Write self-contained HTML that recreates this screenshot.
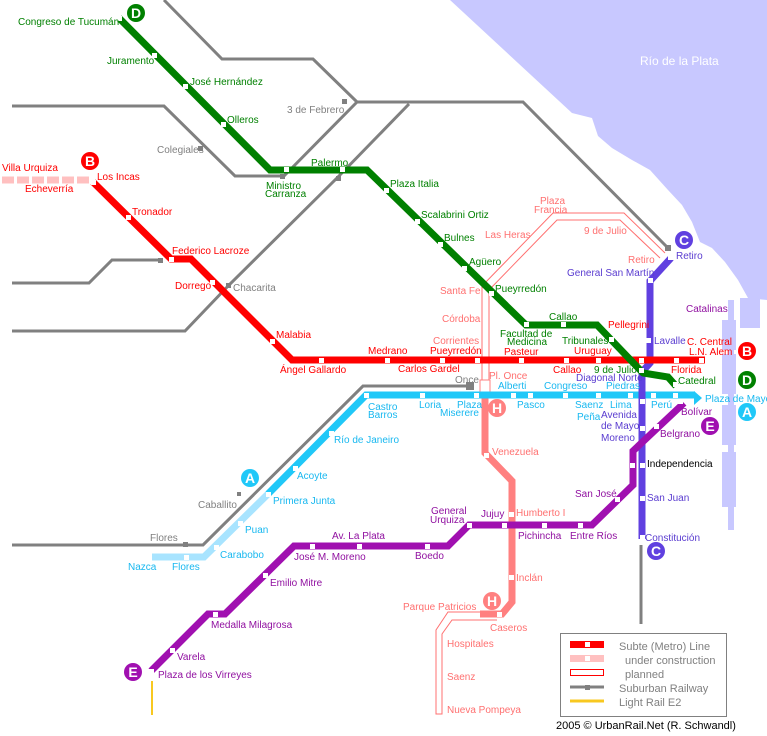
<!DOCTYPE html>
<html><head><meta charset="utf-8"><style>
html,body{margin:0;padding:0;background:#fff}
svg{display:block}
text{font-family:"Liberation Sans",sans-serif;font-size:10px}
.g{fill:#008000}.r{fill:#ff0000}.a{fill:#18b8f0}.c{fill:#5a3cd0}.e{fill:#9010a0}.h{fill:#ff7070}.s{fill:#808080}
.st{fill:#fff}
.ct{font-size:14px;font-weight:bold;fill:#fff;text-anchor:middle}
</style></head><body>
<svg width="767" height="736" viewBox="0 0 767 736" xmlns="http://www.w3.org/2000/svg">
<!-- river -->
<polygon fill="#c8c8ff" points="450,0 767,0 767,300 748,298 738,280 725,262 712,248 700,242 692,222 682,205 668,190 650,170 632,160 612,148 598,136 592,118 572,113"/>
<g fill="#c8c8ff">
<rect x="722" y="320" width="14" height="30"/><rect x="722" y="354" width="14" height="40"/><rect x="722" y="405" width="14" height="40"/><rect x="722" y="452" width="14" height="55"/><rect x="722" y="472" width="14" height="35"/>
<rect x="728" y="300" width="6" height="230"/>
<rect x="740" y="298" width="20" height="30"/>
</g>
<text x="640" y="65" style="font-size:12px;fill:#fff">Río de la Plata</text>

<!-- suburban -->
<g fill="none" stroke="#808080" stroke-width="3">
<polyline points="164,0 222,59 313,59 357,102 523,102 668,248"/>
<polyline points="357,102 284,176"/>
<polyline points="12,106 164,106 235,176 284,176"/>
<polyline points="409,104 338,177 229,285 185,331 12,331"/>
<polyline points="12,283 89,283 112,260 162,260"/>
<polyline points="12,545 203,545 363,386 470,386"/>
<line x1="641" y1="545" x2="641" y2="624"/>
</g>
<g fill="#808080"><rect x="466" y="382" width="8" height="8"/><rect x="342" y="99" width="5" height="5"/><rect x="198" y="146" width="5" height="5"/><rect x="226" y="283" width="5" height="5"/><rect x="665" y="245" width="6" height="6"/><rect x="183" y="542" width="5" height="5"/><rect x="236" y="380" width="0" height="0"/><rect x="237" y="380" width="0" height="0"/><rect x="158" y="258" width="5" height="5"/><rect x="236" y="493" width="0" height="0"/><rect x="237" y="492" width="0" height="0"/><rect x="237" y="493" width="0" height="0"/><rect x="238" y="492" width="0" height="0"/><rect x="237" y="492" width="4" height="4"/><rect x="336" y="176" width="5" height="5"/><rect x="280" y="174" width="5" height="5"/></g>

<!-- planned H outline -->
<g fill="none" stroke="#ff7070" stroke-width="1">
<polyline points="482,384 482,286 553,213 624,213 665,253"/>
<polyline points="489,384 489,290 557,220 620,220 660,258"/>
<polyline points="497,612 448,612 436,630 436,714 442,714 442,634 452,620 497,620"/>
</g>

<!-- H -->
<g fill="none" stroke="#ff8080" stroke-width="7">
<polyline points="485,392 485,453 512,481 512,602 502,614 480,614"/>
</g>
<rect x="480" y="380" width="10" height="12" fill="#fff" stroke="#ff8080"/>

<!-- A -->
<polyline points="152,557 204,557 268,494" fill="none" stroke="#a8e4ff" stroke-width="7"/>
<polyline points="268,494 366,395 695,395" fill="none" stroke="#20c8f8" stroke-width="7"/>
<polygon points="694,391 702,398 694,405" fill="#20c8f8"/>

<!-- C -->
<polyline points="671,258 650,281 650,363 642,372 642,539" fill="none" stroke="#6040e0" stroke-width="7"/>

<!-- E -->
<polyline points="684,403 633,451 633,485 592,525 469,525 448,546 294,546 225,614 208,614 151,671" fill="none" stroke="#a010b0" stroke-width="7"/>
<line x1="152" y1="681" x2="152" y2="715" stroke="#f8c820" stroke-width="2"/>

<!-- B -->
<line x1="2" y1="180" x2="92" y2="180" stroke="#ffc0c0" stroke-width="7" stroke-dasharray="12,3"/>
<polyline points="93,182 171,259 191,259 292,360 705,360" fill="none" stroke="#ff0000" stroke-width="7"/>

<!-- D -->
<polyline points="119,18 270,170 367,170 526,325 597,325 643,373 668,377 676,386" fill="none" stroke="#008000" stroke-width="7"/>

<!-- stations -->
<g class="st">
<rect x="152" y="53" width="5" height="5"/><rect x="183" y="84" width="5" height="5"/><rect x="221" y="122" width="5" height="5"/><rect x="284" y="167" width="5" height="5"/><rect x="340" y="167" width="5" height="5"/><rect x="384" y="188" width="5" height="5"/><rect x="415" y="219" width="5" height="5"/><rect x="438" y="242" width="5" height="5"/><rect x="462" y="266" width="5" height="5"/><rect x="489" y="291" width="5" height="5"/><rect x="524" y="322" width="5" height="5"/><rect x="561" y="322" width="5" height="5"/><rect x="609" y="337" width="5" height="5"/><rect x="639" y="368" width="5" height="5"/><rect x="673" y="382" width="5" height="5"/><rect x="117" y="16" width="5" height="5"/>
<rect x="91" y="180" width="5" height="5"/><rect x="126" y="215" width="5" height="5"/><rect x="169" y="257" width="5" height="5"/><rect x="210" y="280" width="5" height="5"/><rect x="270" y="339" width="5" height="5"/><rect x="319" y="358" width="5" height="5"/><rect x="385" y="358" width="5" height="5"/><rect x="440" y="358" width="5" height="5"/><rect x="475" y="358" width="5" height="5"/><rect x="519" y="358" width="5" height="5"/><rect x="564" y="358" width="5" height="5"/><rect x="596" y="358" width="5" height="5"/><rect x="639" y="358" width="5" height="5"/><rect x="674" y="358" width="5" height="5"/><rect x="699" y="358" width="5" height="5"/>
<rect x="364" y="393" width="5" height="5"/><rect x="420" y="393" width="5" height="5"/><rect x="474" y="393" width="5" height="5"/><rect x="511" y="393" width="5" height="5"/><rect x="528" y="393" width="5" height="5"/><rect x="563" y="393" width="5" height="5"/><rect x="596" y="393" width="5" height="5"/><rect x="628" y="393" width="5" height="5"/><rect x="651" y="393" width="5" height="5"/><rect x="673" y="393" width="5" height="5"/><rect x="329" y="431" width="5" height="5"/><rect x="293" y="466" width="5" height="5"/><rect x="266" y="492" width="5" height="5"/><rect x="238" y="521" width="5" height="5"/><rect x="214" y="545" width="5" height="5"/><rect x="184" y="555" width="5" height="5"/><rect x="147" y="555" width="5" height="5"/>
<rect x="648" y="278" width="5" height="5"/><rect x="646" y="338" width="5" height="5"/><rect x="640" y="399" width="5" height="5"/><rect x="640" y="426" width="5" height="5"/><rect x="640" y="463" width="5" height="5"/><rect x="640" y="496" width="5" height="5"/><rect x="640" y="535" width="5" height="5"/><rect x="668" y="255" width="5" height="5"/>
<rect x="678" y="399" width="5" height="5"/><rect x="654" y="424" width="5" height="5"/><rect x="630" y="463" width="5" height="5"/><rect x="615" y="497" width="5" height="5"/><rect x="578" y="523" width="5" height="5"/><rect x="542" y="523" width="5" height="5"/><rect x="502" y="523" width="5" height="5"/><rect x="467" y="523" width="5" height="5"/><rect x="425" y="544" width="5" height="5"/><rect x="357" y="544" width="5" height="5"/><rect x="310" y="544" width="5" height="5"/><rect x="263" y="573" width="5" height="5"/><rect x="213" y="612" width="5" height="5"/><rect x="170" y="648" width="5" height="5"/><rect x="149" y="669" width="5" height="5"/>
<rect x="484" y="453" width="5" height="5"/><rect x="509" y="512" width="5" height="5"/><rect x="509" y="575" width="5" height="5"/><rect x="497" y="612" width="5" height="5"/>
</g>

<!-- circles -->
<g>
<circle cx="136" cy="13" r="9" fill="#008000"/><text x="136" y="18" class="ct">D</text>
<circle cx="90" cy="161" r="9" fill="#ff0000"/><text x="90" y="166" class="ct">B</text>
<circle cx="684" cy="240" r="9" fill="#6040e0"/><text x="684" y="245" class="ct">C</text>
<circle cx="747" cy="351" r="9" fill="#ff0000"/><text x="747" y="356" class="ct">B</text>
<circle cx="747" cy="380" r="9" fill="#008000"/><text x="747" y="385" class="ct">D</text>
<circle cx="747" cy="412" r="9" fill="#20c8f8"/><text x="747" y="417" class="ct">A</text>
<circle cx="710" cy="426" r="9" fill="#a010b0"/><text x="710" y="431" class="ct">E</text>
<circle cx="250" cy="478" r="9" fill="#20c8f8"/><text x="250" y="483" class="ct">A</text>
<circle cx="656" cy="551" r="9" fill="#6040e0"/><text x="656" y="556" class="ct">C</text>
<circle cx="497" cy="408" r="9" fill="#ff8080"/><text x="497" y="413" class="ct">H</text>
<circle cx="492" cy="601" r="9" fill="#ff8080"/><text x="492" y="606" class="ct">H</text>
<circle cx="133" cy="672" r="9" fill="#a010b0"/><text x="133" y="677" class="ct">E</text>
</g>

<!-- labels -->
<g class="g">
<text x="18" y="25">Congreso de Tucumán</text><text x="107" y="64">Juramento</text><text x="190" y="85">José Hernández</text><text x="227" y="123">Olleros</text><text x="311" y="166">Palermo</text><text x="266" y="189">Ministro</text><text x="265" y="197">Carranza</text><text x="390" y="187">Plaza Italia</text><text x="421" y="218">Scalabrini Ortiz</text><text x="444" y="241">Bulnes</text><text x="469" y="265">Agüero</text><text x="495" y="292">Pueyrredón</text><text x="549" y="320">Callao</text><text x="500" y="337">Facultad de</text><text x="507" y="345">Medicina</text><text x="562" y="344">Tribunales</text><text x="594" y="373">9 de Julio</text><text x="678" y="384">Catedral</text>
</g>
<g class="r">
<text x="2" y="171">Villa Urquiza</text><text x="25" y="192">Echeverría</text><text x="97" y="180">Los Incas</text><text x="132" y="215">Tronador</text><text x="172" y="254">Federico Lacroze</text><text x="175" y="289">Dorrego</text><text x="276" y="338">Malabia</text><text x="280" y="373">Ángel Gallardo</text><text x="368" y="354">Medrano</text><text x="398" y="372">Carlos Gardel</text><text x="430" y="354">Pueyrredón</text><text x="504" y="355">Pasteur</text><text x="553" y="373">Callao</text><text x="574" y="354">Uruguay</text><text x="608" y="328">Pellegrini</text><text x="687" y="345">C. Central</text><text x="689" y="355">L.N. Alem</text><text x="671" y="373">Florida</text>
</g>
<g class="a">
<text x="368" y="410">Castro</text><text x="368" y="418">Barros</text><text x="419" y="408">Loria</text><text x="457" y="408">Plaza</text><text x="440" y="416">Miserere</text><text x="498" y="389">Alberti</text><text x="517" y="408">Pasco</text><text x="544" y="389">Congreso</text><text x="575" y="408">Saenz</text><text x="577" y="420">Peña</text><text x="610" y="408">Lima</text><text x="606" y="389">Piedras</text><text x="651" y="408">Perú</text><text x="705" y="402">Plaza de Mayo</text><text x="334" y="443">Río de Janeiro</text><text x="297" y="479">Acoyte</text><text x="273" y="504">Primera Junta</text><text x="245" y="533">Puan</text><text x="220" y="558">Carabobo</text><text x="128" y="570">Nazca</text><text x="172" y="570">Flores</text>
</g>
<g class="c">
<text x="676" y="259">Retiro</text><text x="567" y="276">General San Martín</text><text x="654" y="344">Lavalle</text><text x="576" y="381">Diagonal Norte</text><text x="601" y="418">Avenida</text><text x="601" y="429">de Mayo</text><text x="601" y="441">Moreno</text><text x="647" y="467" style="fill:#000">Independencia</text><text x="647" y="501">San Juan</text><text x="645" y="541">Constitución</text>
</g>
<g class="e">
<text x="686" y="312">Catalinas</text><text x="681" y="415">Bolívar</text><text x="660" y="437">Belgrano</text><text x="575" y="497">San José</text><text x="570" y="539">Entre Ríos</text><text x="518" y="539">Pichincha</text><text x="481" y="517">Jujuy</text><text x="431" y="514">General</text><text x="430" y="523">Urquiza</text><text x="415" y="559">Boedo</text><text x="332" y="539">Av. La Plata</text><text x="294" y="560">José M. Moreno</text><text x="270" y="586">Emilio Mitre</text><text x="211" y="628">Medalla Milagrosa</text><text x="177" y="660">Varela</text><text x="158" y="678">Plaza de los Virreyes</text>
</g>
<g class="h">
<text x="540" y="204">Plaza</text><text x="534" y="213">Francia</text><text x="485" y="238">Las Heras</text><text x="584" y="234">9 de Julio</text><text x="628" y="263">Retiro</text><text x="440" y="294">Santa Fe</text><text x="442" y="322">Córdoba</text><text x="433" y="344">Corrientes</text><text x="489" y="379">Pl. Once</text><text x="492" y="455">Venezuela</text><text x="516" y="516">Humberto I</text><text x="516" y="581">Inclán</text><text x="403" y="610">Parque Patricios</text><text x="490" y="631">Caseros</text><text x="447" y="647">Hospitales</text><text x="447" y="680">Saenz</text><text x="447" y="713">Nueva Pompeya</text>
</g>
<g class="s">
<text x="287" y="113">3 de Febrero</text><text x="157" y="153">Colegiales</text><text x="233" y="291">Chacarita</text><text x="455" y="383">Once</text><text x="198" y="508">Caballito</text><text x="150" y="541">Flores</text>
</g>

<!-- legend -->
<rect x="560.5" y="633.5" width="166" height="83" fill="#fff" stroke="#808080"/>
<rect x="570" y="641" width="34" height="7" fill="#ff0000"/><rect x="585" y="642" width="5" height="5" fill="#fff"/>
<rect x="570" y="655" width="34" height="7" fill="#ffc0c0"/><rect x="585" y="656" width="5" height="5" fill="#fff"/>
<rect x="570.5" y="669.5" width="33" height="6" fill="none" stroke="#ff0000"/>
<line x1="570" y1="687" x2="604" y2="687" stroke="#808080" stroke-width="3"/><rect x="585" y="685" width="5" height="5" fill="#808080"/>
<line x1="570" y1="701" x2="604" y2="701" stroke="#f8c820" stroke-width="3"/>
<g class="s" style="font-size:11px">
<text x="619" y="650" style="font-size:11px">Subte (Metro) Line</text>
<text x="625" y="664" style="font-size:11px">under construction</text>
<text x="625" y="678" style="font-size:11px">planned</text>
<text x="619" y="692" style="font-size:11px">Suburban Railway</text>
<text x="619" y="706" style="font-size:11px">Light Rail E2</text>
</g>
<text x="556" y="729" style="font-size:11px;fill:#000">2005 © UrbanRail.Net (R. Schwandl)</text>
</svg>
</body></html>
